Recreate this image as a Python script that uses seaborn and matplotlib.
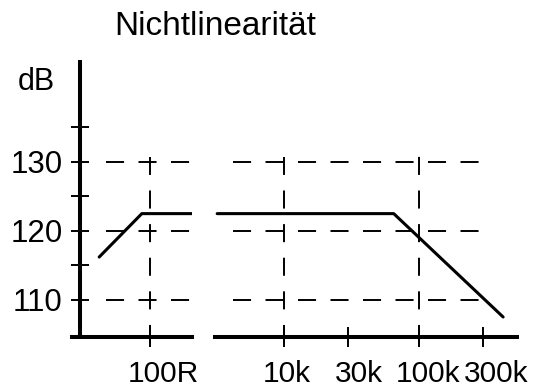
import matplotlib
matplotlib.use('Agg')
import matplotlib.pyplot as plt
import matplotlib.transforms as mtransforms
import seaborn as sns
from matplotlib.ticker import FixedLocator, FixedFormatter, NullLocator

# curve: left part in ohm, right part in Hz, values in dB
low_x = [42, 87, 205]
low_db = [116.2, 122.5, 122.5]
high_x = [3200, 65000, 420000]
high_db = [122.5, 122.5, 107.5]

y_ticks = [110, 115, 120, 125, 130, 135]
y_labels = ['110', '', '120', '', '130', '']
grid_db = [110, 120, 130]

low_ticks = [100]
low_labels = ['100R']
high_ticks = [10e3, 30e3, 100e3, 300e3]
high_labels = ['10k', '30k', '100k', '300k']

sns.set_style('white')
plt.rcParams['font.family'] = ['Liberation Sans', 'DejaVu Sans']
plt.rcParams['lines.scale_dashes'] = False
plt.rcParams['text.color'] = 'black'
plt.rcParams['xtick.color'] = 'black'
plt.rcParams['ytick.color'] = 'black'
plt.rcParams['xtick.labelcolor'] = 'black'
plt.rcParams['ytick.labelcolor'] = 'black'

fig = plt.figure(figsize=(5.49, 3.89), dpi=100)
ax1 = fig.add_axes([0.1311, 0.1337, 0.2186, 0.7069])
ax2 = fig.add_axes([0.3916, 0.1337, 0.5501, 0.7069])

sns.lineplot(x=low_x, y=low_db, ax=ax1, color='black', linewidth=2.2)
sns.lineplot(x=high_x, y=high_db, ax=ax2, color='black', linewidth=2.2)

h_dash = (0, (13, 10.4))
v_dash = (0, (13, 11.2))

for ax, xl, ticks, labels in [(ax1, (26.4, 204.8), low_ticks, low_labels),
                              (ax2, (3083, 532000), high_ticks, high_labels)]:
    ax.set_xscale('log')
    ax.set_xlim(*xl)
    ax.set_ylim(104.6, 144.5)
    ax.set_facecolor('none')
    for s in ['top', 'right']:
        ax.spines[s].set_visible(False)
    ax.spines['bottom'].set_linewidth(2.9)
    ax.spines['bottom'].set_color('black')
    ax.xaxis.set_major_locator(FixedLocator(ticks))
    ax.xaxis.set_major_formatter(FixedFormatter(labels))
    ax.xaxis.set_minor_locator(NullLocator())
    ax.tick_params(axis='x', which='major', direction='inout', length=14.4,
                   width=1.4, color='black', labelcolor='black',
                   labelsize=21.5, pad=9.5, bottom=True)
    ax.set_xlabel('')
    ax.set_ylabel('')

# left axis (only on the left panel)
ax1.spines['left'].set_position(('data', 30.3))
ax1.spines['left'].set_linewidth(2.9)
ax1.spines['left'].set_color('black')
ax1.yaxis.set_major_locator(FixedLocator(y_ticks))
ax1.yaxis.set_major_formatter(FixedFormatter(y_labels))
ax1.tick_params(axis='y', direction='inout', length=13, width=1.4,
                color='black', labelcolor='black', labelsize=22.5, pad=6,
                left=True)
ax2.spines['left'].set_visible(False)
ax2.tick_params(axis='y', left=False, labelleft=False)

# the labels in the original sit a bit right of their ticks
shifts = {ax1: [13], ax2: [2.5, 10, 9, 13]}
for ax, dxs in shifts.items():
    for lab, dx in zip(ax.get_xticklabels(), dxs):
        off = mtransforms.ScaledTranslation(dx / 100, 0, fig.dpi_scale_trans)
        lab.set_transform(lab.get_transform() + off)

# dashed grid
for y in grid_db:
    ax1.axhline(y, xmin=0.283, xmax=0.983, color='black', lw=1.4, ls=h_dash)
    ax2.axhline(y, xmin=0.0596, xmax=0.877, color='black', lw=1.4, ls=h_dash)

ax1.axvline(low_ticks[0], ymin=-0.022, ymax=0.653, color='black', lw=1.4,
            ls=v_dash, clip_on=False)
ax2.axvline(high_ticks[0], ymin=-0.022, ymax=0.653, color='black', lw=1.4,
            ls=v_dash, clip_on=False)
ax2.axvline(high_ticks[2], ymin=-0.022, ymax=0.698, color='black', lw=1.4,
            ls=v_dash, clip_on=False)

fig.text(215 / 549, 1 - 35 / 389, 'Nichtlinearität', ha='center',
         va='baseline', fontsize=24)
fig.text(36 / 549, 1 - 90 / 389, 'dB', ha='center', va='baseline',
         fontsize=22)

fig.savefig('out.png', dpi=100)
